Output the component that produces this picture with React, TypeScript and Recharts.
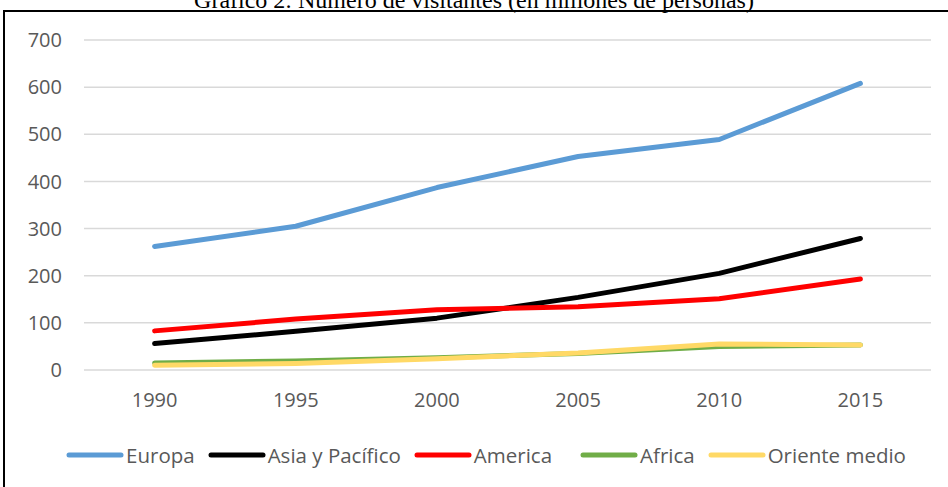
import React from 'react';
import { LineChart, Line, XAxis, YAxis, CartesianGrid } from 'recharts';

const YEARS = ['1990', '1995', '2000', '2005', '2010', '2015'];
const EUROPA = [262, 305, 387, 453, 489, 608];
const ASIA_PACIFICO = [56, 82, 110, 154, 205, 279];
const AMERICA = [83, 108, 128, 134, 151, 193];
const AFRICA = [15, 19, 26, 35, 50, 53];
const ORIENTE_MEDIO = [10, 14, 24, 36, 55, 53];
const Y_TICKS = [0, 100, 200, 300, 400, 500, 600, 700];

const SERIES = [
  { key: 'europa', name: 'Europa', color: '#5B9BD5' },
  { key: 'asia', name: 'Asia y Pacífico', color: '#000000' },
  { key: 'america', name: 'America', color: '#FF0000' },
  { key: 'africa', name: 'Africa', color: '#70AD47' },
  { key: 'oriente', name: 'Oriente medio', color: '#FFD966' },
];

const data = YEARS.map((year, i) => ({
  year,
  europa: EUROPA[i],
  asia: ASIA_PACIFICO[i],
  america: AMERICA[i],
  africa: AFRICA[i],
  oriente: ORIENTE_MEDIO[i],
}));

const FONT = '"Open Sans", "Noto Sans", sans-serif';
const TEXT = '#595959';

// legend row under the x axis, line swatches like the series strokes
function LegendRow() {
  return (
    <div
      style={{
        display: 'flex',
        justifyContent: 'center',
        alignItems: 'center',
        paddingLeft: 24,
        fontFamily: FONT,
        fontSize: 20.5,
        color: TEXT,
      }}
    >
      {SERIES.map((s, i) => (
        <div
          key={s.key}
          style={{ display: 'flex', alignItems: 'center', marginRight: i === SERIES.length - 1 ? 0 : s.key === 'america' ? 28 : 13 }}
        >
          <svg width={58} height={8} style={{ marginRight: 2 }}>
            <line x1={3} y1={4} x2={55} y2={4} stroke={s.color} strokeWidth={5} strokeLinecap="round" />
          </svg>
          <span>{s.name}</span>
        </div>
      ))}
    </div>
  );
}

export default function App() {
  return (
    <div style={{ position: 'fixed', left: 0, top: 0, width: 948, height: 487, overflow: 'hidden', background: '#fff' }}>
      <div
        style={{
          position: 'absolute',
          left: 0,
          right: 0,
          top: -13,
          textAlign: 'center',
          whiteSpace: 'nowrap',
          fontFamily: '"Liberation Serif", "Times New Roman", serif',
          fontSize: 24,
          color: '#000',
        }}
      >
        Gráfico 2: Número de visitantes (en millones de personas)
      </div>
      <div
        style={{
          position: 'absolute',
          left: 3,
          top: 10,
          right: -4,
          bottom: -4,
          borderLeft: '2px solid #000',
          borderTop: '2px solid #000',
        }}
      />
      <div style={{ position: 'absolute', left: 0, top: 0 }}>
        <LineChart width={948} height={487} data={data} margin={{ top: 40, right: 17, left: 0, bottom: 64 }}>
          <CartesianGrid vertical={false} stroke="#d9d9d9" strokeWidth={1.5} />
          <XAxis
            dataKey="year"
            axisLine={false}
            tickLine={false}
            tickSize={0}
            tickMargin={23}
            height={53}
            padding={{ left: 70.6, right: 70.6 }}
            tick={{ fill: TEXT, fontSize: 20, fontFamily: FONT }}
          />
          <YAxis
            domain={[0, 700]}
            ticks={Y_TICKS}
            axisLine={false}
            tickLine={false}
            tickSize={0}
            tickMargin={22}
            width={84}
            tick={{ fill: TEXT, fontSize: 20, fontFamily: FONT }}
          />
          {SERIES.map((s) => (
            <Line
              key={s.key}
              type="linear"
              dataKey={s.key}
              name={s.name}
              stroke={s.color}
              strokeWidth={5}
              strokeLinecap="round"
              strokeLinejoin="round"
              dot={false}
              activeDot={false}
              isAnimationActive={false}
            />
          ))}
        </LineChart>
      </div>
      <div style={{ position: 'absolute', left: 0, width: 948, top: 441 }}>
        <LegendRow />
      </div>
    </div>
  );
}
